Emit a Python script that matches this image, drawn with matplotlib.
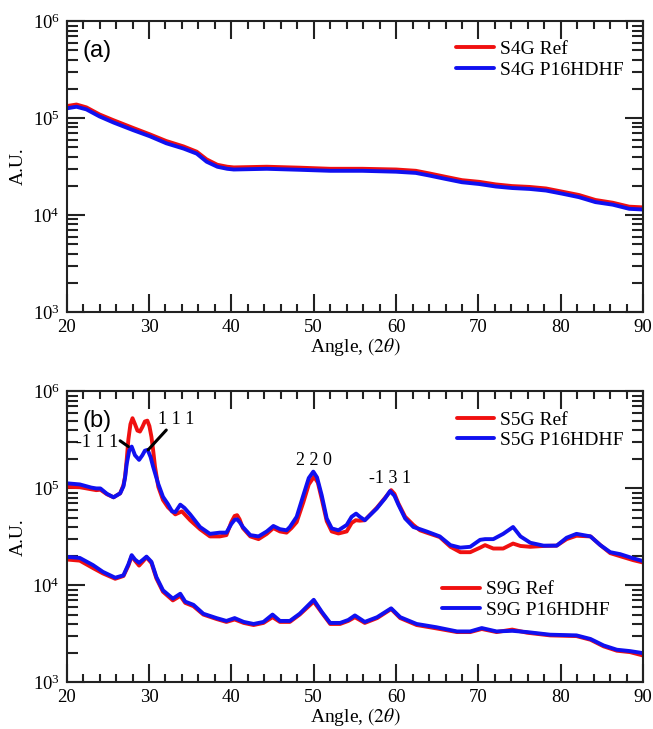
import matplotlib
matplotlib.use('Agg')
import matplotlib.pyplot as plt
from matplotlib.ticker import MultipleLocator, LogLocator, NullFormatter

plt.rcParams['font.family'] = 'Liberation Serif'
plt.rcParams['mathtext.fontset'] = 'stix'
plt.rcParams['lines.solid_joinstyle'] = 'round'
plt.rcParams['lines.solid_capstyle'] = 'round'

RED = '#f01010'
BLUE = '#1010f0'

# Panel (a): S4G scans
s4g_angle = [20.0, 21.2, 22.4, 24.0, 25.7, 28.1, 30.1, 32.1, 34.2, 35.8, 37.0,
             38.3, 39.5, 40.3, 44.3, 48.3, 52.0, 55.9, 60.0, 62.4, 64.0, 66.0,
             68.0, 70.1, 72.1, 74.1, 76.2, 78.2, 80.2, 82.2, 84.2, 86.3, 88.3, 90.0]
s4g_ref = [1.33e5, 1.38e5, 1.29e5, 1.09e5, 9.5e4, 7.9e4, 6.8e4, 5.8e4, 5.1e4, 4.5e4,
           3.75e4, 3.3e4, 3.15e4, 3.1e4, 3.15e4, 3.08e4, 3.0e4, 3.0e4, 2.95e4, 2.86e4,
           2.69e4, 2.48e4, 2.29e4, 2.2e4, 2.07e4, 1.99e4, 1.95e4, 1.88e4, 1.74e4,
           1.61e4, 1.43e4, 1.34e4, 1.22e4, 1.2e4]
s4g_p16 = [1.26e5, 1.31e5, 1.23e5, 1.04e5, 9.0e4, 7.5e4, 6.5e4, 5.5e4, 4.85e4, 4.3e4,
           3.55e4, 3.15e4, 3.0e4, 2.95e4, 3.0e4, 2.93e4, 2.86e4, 2.86e4, 2.8e4, 2.72e4,
           2.56e4, 2.36e4, 2.18e4, 2.09e4, 1.97e4, 1.9e4, 1.86e4, 1.79e4, 1.66e4,
           1.53e4, 1.36e4, 1.28e4, 1.16e4, 1.14e4]

# Panel (b): S5G scans
s5g_ref_angle = [20.0, 21.6, 23.0, 23.6, 24.1, 24.9, 25.7, 26.5, 26.9, 27.1, 27.3, 27.5,
                 27.75, 28.0, 28.3, 28.6, 28.9, 29.2, 29.5, 29.8, 30.05, 30.3, 30.5,
                 30.73, 31.13, 31.7, 32.3, 33.2, 34.0, 35.0, 36.2, 37.4, 38.6, 39.4,
                 40.0, 40.4, 40.7, 41.0, 41.4, 42.3, 43.3, 44.3, 45.1, 45.9, 46.7, 47.3,
                 47.93, 48.74, 49.4, 50.04, 50.5, 50.97, 51.58, 52.19, 53.0, 54.0, 54.6,
                 55.1, 55.6, 56.2, 57.65, 58.66, 59.4, 59.8, 60.28, 61.1, 62.1, 62.9,
                 63.7, 65.3, 66.6, 67.8, 69.0, 70.2, 70.8, 71.8, 73.0, 74.2, 75.1, 76.3,
                 77.9, 79.5, 80.7, 81.9, 83.6, 84.8, 86.0, 87.2, 88.8, 90.0]
s5g_ref = [1.04e5, 1.03e5, 9.8e4, 9.6e4, 9.7e4, 8.7e4, 8.1e4, 8.9e4, 1.08e5, 1.33e5,
           2.0e5, 3.2e5, 4.6e5, 5.3e5, 4.6e5, 3.95e5, 3.86e5, 4.3e5, 4.9e5, 5.0e5,
           4.4e5, 3.4e5, 2.5e5, 1.68e5, 1.04e5, 7.6e4, 6.4e4, 5.4e4, 5.8e4, 4.7e4,
           3.8e4, 3.2e4, 3.2e4, 3.3e4, 4.5e4, 5.2e4, 5.3e4, 4.8e4, 3.9e4, 3.2e4,
           3.0e4, 3.4e4, 3.9e4, 3.6e4, 3.5e4, 3.9e4, 4.5e4, 7.2e4, 1.1e5, 1.32e5,
           1.15e5, 7.8e4, 4.6e4, 3.6e4, 3.43e4, 3.6e4, 4.4e4, 4.7e4, 4.65e4, 4.7e4,
           6.3e4, 8.0e4, 9.6e4, 8.8e4, 7.0e4, 5.1e4, 4.2e4, 3.7e4, 3.5e4, 3.15e4,
           2.5e4, 2.2e4, 2.2e4, 2.45e4, 2.6e4, 2.4e4, 2.4e4, 2.7e4, 2.55e4, 2.5e4,
           2.55e4, 2.57e4, 3.0e4, 3.25e4, 3.2e4, 2.6e4, 2.15e4, 2.0e4, 1.82e4, 1.72e4]

s5g_p16_angle = [20.0, 21.6, 23.0, 23.6, 24.1, 24.9, 25.7, 26.5, 26.9, 27.1, 27.3, 27.6,
                 27.9, 28.3, 28.8, 29.2, 29.5, 29.84, 30.2, 30.5, 31.1, 31.7, 32.3, 32.8,
                 33.2, 33.8, 34.3, 35.0, 36.2, 37.4, 38.6, 39.4, 40.0, 40.4, 40.7, 41.0,
                 41.4, 42.3, 43.3, 44.3, 45.1, 45.9, 46.7, 47.1, 47.93, 48.74, 49.4,
                 49.95, 50.4, 50.97, 51.58, 52.19, 53.0, 54.0, 54.6, 55.14, 55.6, 56.2,
                 57.65, 58.66, 59.27, 59.8, 60.28, 61.1, 62.1, 62.9, 63.7, 65.3, 66.6,
                 67.8, 69.0, 70.2, 70.8, 71.8, 73.0, 74.2, 75.1, 76.3, 77.9, 79.5, 80.7,
                 81.9, 83.6, 84.8, 86.0, 87.2, 88.8, 90.0]
s5g_p16 = [1.13e5, 1.10e5, 1.02e5, 1.0e5, 1.0e5, 8.8e4, 8.1e4, 8.9e4, 1.05e5, 1.3e5,
           1.8e5, 2.45e5, 2.7e5, 2.2e5, 1.97e5, 2.2e5, 2.45e5, 2.5e5, 2.1e5, 1.68e5,
           1.13e5, 8.2e4, 6.9e4, 5.8e4, 5.7e4, 6.8e4, 6.3e4, 5.4e4, 4.0e4, 3.4e4,
           3.5e4, 3.5e4, 4.3e4, 4.75e4, 4.8e4, 4.5e4, 4.0e4, 3.3e4, 3.2e4, 3.6e4,
           4.1e4, 3.8e4, 3.7e4, 4.0e4, 5.1e4, 8.5e4, 1.28e5, 1.49e5, 1.3e5, 8.5e4,
           4.9e4, 3.87e4, 3.7e4, 4.2e4, 5.1e4, 5.5e4, 5.1e4, 4.7e4, 6.2e4, 7.9e4,
           9.4e4, 8.4e4, 6.8e4, 4.9e4, 4.0e4, 3.8e4, 3.6e4, 3.2e4, 2.6e4, 2.45e4,
           2.5e4, 2.95e4, 3.0e4, 3.0e4, 3.4e4, 4.0e4, 3.2e4, 2.75e4, 2.57e4, 2.57e4,
           3.1e4, 3.4e4, 3.2e4, 2.6e4, 2.2e4, 2.1e4, 1.9e4, 1.78e4]

# Panel (b): S9G scans
s9g_angle = [20.0, 21.6, 23.2, 24.4, 25.9, 26.9, 27.5, 27.9, 28.3, 28.8, 29.3, 29.7,
             30.3, 30.9, 31.7, 32.9, 33.8, 34.4, 35.4, 36.6, 38.2, 39.4, 40.4, 41.5,
             42.7, 43.9, 45.0, 45.9, 47.1, 48.3, 50.0, 51.0, 52.0, 53.2, 54.2, 55.0,
             56.2, 57.7, 59.4, 60.5, 62.5, 64.9, 67.4, 69.0, 70.4, 72.2, 74.1, 75.9,
             78.7, 81.9, 83.6, 85.2, 86.8, 88.4, 90.0]
s9g_ref = [1.85e4, 1.8e4, 1.51e4, 1.33e4, 1.17e4, 1.25e4, 1.6e4, 2.0e4, 1.8e4, 1.6e4,
           1.78e4, 1.95e4, 1.7e4, 1.18e4, 8.6e3, 7.0e3, 7.8e3, 6.6e3, 6.1e3, 5.0e3,
           4.5e3, 4.2e3, 4.45e3, 4.1e3, 3.9e3, 4.1e3, 4.7e3, 4.2e3, 4.2e3, 5.0e3,
           6.8e3, 5.2e3, 4.0e3, 4.0e3, 4.3e3, 4.7e3, 4.1e3, 4.6e3, 5.7e3, 4.6e3,
           3.9e3, 3.6e3, 3.3e3, 3.3e3, 3.55e3, 3.3e3, 3.5e3, 3.25e3, 3.05e3, 3.0e3,
           2.75e3, 2.35e3, 2.12e3, 2.05e3, 1.89e3]
s9g_p16 = [1.97e4, 1.92e4, 1.62e4, 1.38e4, 1.2e4, 1.27e4, 1.65e4, 2.05e4, 1.85e4, 1.71e4,
           1.85e4, 1.98e4, 1.75e4, 1.22e4, 8.9e3, 7.3e3, 8.2e3, 6.8e3, 6.3e3, 5.1e3,
           4.6e3, 4.3e3, 4.6e3, 4.2e3, 4.0e3, 4.2e3, 5.0e3, 4.3e3, 4.3e3, 5.1e3,
           7.1e3, 5.3e3, 4.1e3, 4.1e3, 4.4e3, 4.9e3, 4.2e3, 4.7e3, 5.8e3, 4.7e3,
           4.0e3, 3.7e3, 3.35e3, 3.35e3, 3.63e3, 3.35e3, 3.4e3, 3.3e3, 3.1e3, 3.05e3,
           2.8e3, 2.4e3, 2.17e3, 2.1e3, 2.0e3]

# Miller index labels: (text, x, y)
peak_labels = [('2 2 0', 50.0, 1.96e5), ('-1 3 1', 59.3, 1.28e5)]


def style_axes(ax):
    ax.set_yscale('log')
    ax.set_xlim(20, 90)
    ax.set_ylim(1e3, 1e6)
    ax.xaxis.set_major_locator(MultipleLocator(10))
    ax.xaxis.set_minor_locator(MultipleLocator(2))
    ax.yaxis.set_major_locator(LogLocator(base=10, numticks=10))
    ax.yaxis.set_minor_locator(LogLocator(base=10, subs=range(2, 10), numticks=10))
    ax.yaxis.set_minor_formatter(NullFormatter())
    ax.tick_params(which='both', direction='in', top=True, right=True,
                   width=1.5, color='#222222', labelsize=13.5, pad=5)
    ax.tick_params(axis='x', which='major', length=13)
    ax.tick_params(axis='x', which='minor', length=6)
    ax.tick_params(axis='y', which='major', length=13)
    ax.tick_params(axis='y', which='minor', length=8)
    for s in ax.spines.values():
        s.set_linewidth(1.5)
        s.set_color('#222222')
    ax.set_xlabel(r'Angle, $(2\theta)$', fontsize=14, labelpad=0)
    ax.set_ylabel('A.U.', fontsize=14, labelpad=4)


leg_kw = dict(frameon=False, fontsize=14, handlelength=1.95, handletextpad=0.3,
              labelspacing=0.15)
LW = 2.8

fig = plt.figure(figsize=(6.53, 7.29), dpi=100)
ax1 = fig.add_axes([0.102, 0.572, 0.883, 0.399])
ax2 = fig.add_axes([0.102, 0.064, 0.883, 0.399])

# Panel (a)
ax1.plot(s4g_angle, s4g_ref, color=RED, lw=LW, label='S4G Ref')
ax1.plot(s4g_angle, s4g_p16, color=BLUE, lw=LW, label='S4G P16HDHF')
style_axes(ax1)
ax1.legend(loc='upper right', bbox_to_anchor=(1.0, 1.0), borderaxespad=0.6, **leg_kw)
ax1.text(0.028, 0.935, '(a)', transform=ax1.transAxes, fontsize=17,
         family='Liberation Sans', va='top')

# Panel (b)
l1, = ax2.plot(s5g_ref_angle, s5g_ref, color=RED, lw=LW, label='S5G Ref')
l2, = ax2.plot(s5g_p16_angle, s5g_p16, color=BLUE, lw=LW, label='S5G P16HDHF')
l3, = ax2.plot(s9g_angle, s9g_ref, color=RED, lw=LW, label='S9G Ref')
l4, = ax2.plot(s9g_angle, s9g_p16, color=BLUE, lw=LW, label='S9G P16HDHF')
style_axes(ax2)
leg1 = ax2.legend(handles=[l1, l2], loc='upper right', bbox_to_anchor=(1.0, 1.0),
                  borderaxespad=0.6, **leg_kw)
ax2.add_artist(leg1)
ax2.legend(handles=[l3, l4], loc='upper right', bbox_to_anchor=(0.955, 0.376),
           borderaxespad=0.0, **leg_kw)
ax2.text(0.028, 0.935, '(b)', transform=ax2.transAxes, fontsize=17,
         family='Liberation Sans', va='top')

# leader lines for the two overlapping reflections
line_kw = dict(arrowstyle='-', lw=2.2, color='black', shrinkA=0, shrinkB=0)
ax2.annotate('', xy=(27.5, 2.7e5), xytext=(26.5, 3.1e5), arrowprops=line_kw)
ax2.text(26.3, 2.98e5, '-1 1 1', fontsize=13, ha='right', va='center')
ax2.annotate('', xy=(29.9, 2.5e5), xytext=(32.1, 4.0e5), arrowprops=line_kw)
ax2.text(33.3, 5.15e5, '1 1 1', fontsize=13, ha='center', va='center')
for txt, x, y in peak_labels:
    ax2.text(x, y, txt, fontsize=13, ha='center', va='center')

fig.savefig('out.png', dpi=100)
